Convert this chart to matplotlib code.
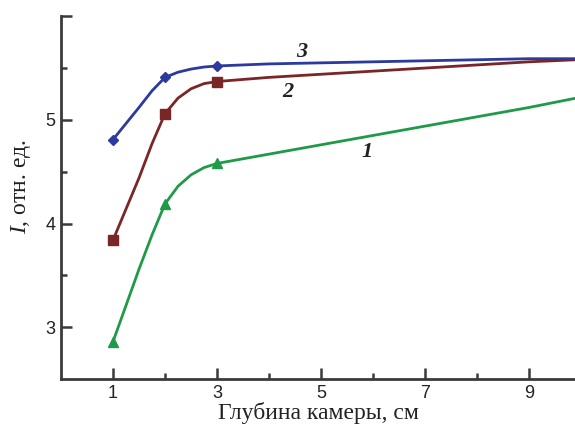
import numpy as np
import matplotlib
matplotlib.use("Agg")
import matplotlib.pyplot as plt
from matplotlib.ticker import FixedLocator

# line points (smooth curves)
x_line = [1, 1.5, 1.75, 2, 2.25, 2.5, 2.75, 3, 4, 5, 6, 7, 8, 9, 9.9]
y1_line = [2.86, 3.56, 3.89, 4.19, 4.36, 4.47, 4.54, 4.58, 4.67, 4.76, 4.85, 4.94, 5.03, 5.12, 5.21]
y2_line = [3.84, 4.44, 4.77, 5.06, 5.21, 5.30, 5.35, 5.37, 5.41, 5.44, 5.47, 5.50, 5.53, 5.56, 5.58]
y3_line = [4.81, 5.12, 5.28, 5.41, 5.46, 5.49, 5.51, 5.52, 5.54, 5.55, 5.56, 5.57, 5.58, 5.59, 5.59]

# measured points (markers)
x_pts = [1, 2, 3]
y1_pts = [2.86, 4.19, 4.58]
y2_pts = [3.84, 5.06, 5.37]
y3_pts = [4.81, 5.41, 5.52]

curve_labels = ["1", "2", "3"]
label_pos = [(5.88, 4.69), (4.37, 5.27), (4.63, 5.65)]

plt.rcParams["mathtext.fontset"] = "custom"
plt.rcParams["mathtext.it"] = "Liberation Serif:italic"
plt.rcParams["mathtext.rm"] = "Liberation Serif"

fig = plt.figure(figsize=(5.75, 4.26), dpi=100)
ax = fig.add_axes((0.106, 0.110, 0.894, 0.852))

green = "#1f9a48"
red = "#7a2626"
blue = "#2b3a9c"

ax.plot(x_line, y1_line, color=green, lw=2.0)
ax.plot(x_line, y2_line, color=red, lw=2.0)
ax.plot(x_line, y3_line, color=blue, lw=2.0)
ax.plot(x_pts, y1_pts, ls="none", marker="^", ms=7, color=green)
ax.plot(x_pts, y2_pts, ls="none", marker="s", ms=7, color=red)
ax.plot(x_pts, y3_pts, ls="none", marker="D", ms=5, color=blue)

for lab, (lx, ly) in zip(curve_labels, label_pos):
    ax.text(lx, ly, lab, fontsize=16, family="Liberation Serif", style="italic",
            weight="bold", ha="center", va="center", color="#222222")

ax.set_xlim(0, 9.88)
ax.set_ylim(2.5, 6.0)

ax.xaxis.set_major_locator(FixedLocator([1, 3, 5, 7, 9]))
ax.xaxis.set_minor_locator(FixedLocator([2, 4, 6, 8]))
ax.yaxis.set_major_locator(FixedLocator([3, 4, 5, 6]))
ax.yaxis.set_minor_locator(FixedLocator([3.5, 4.5, 5.5]))
ax.set_yticklabels(["3", "4", "5", ""])

for s in ["top", "right"]:
    ax.spines[s].set_visible(False)
for s in ["left", "bottom"]:
    ax.spines[s].set_linewidth(2.0)
    ax.spines[s].set_color("#3a3a3a")

ax.tick_params(which="major", direction="in", length=8, width=1.8, color="#3a3a3a",
               labelsize=13, pad=4)
ax.tick_params(which="minor", direction="in", length=4, width=1.8, color="#3a3a3a")
for t in ax.get_xticklabels() + ax.get_yticklabels():
    t.set_family("Liberation Sans")
    t.set_color("#222222")

ax.set_xlabel("Глубина камеры, см", fontsize=17, family="Liberation Serif",
              color="#222222", labelpad=0)
ax.set_ylabel("$\\mathit{I}$, отн. ед.", fontsize=17, family="Liberation Serif",
              color="#222222")
ax.yaxis.set_label_coords(-0.055, 0.53)

fig.savefig("out.png", dpi=100)
